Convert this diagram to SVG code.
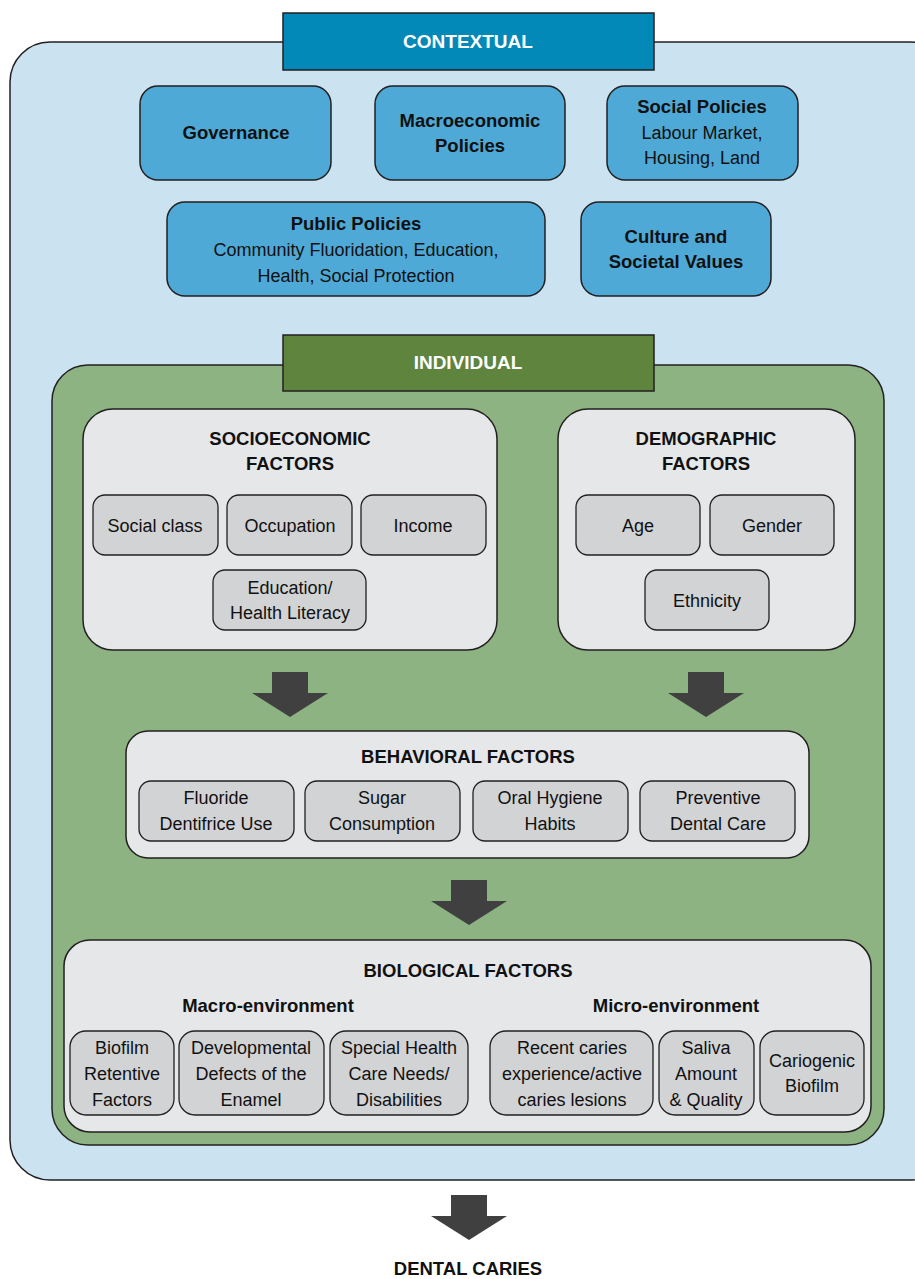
<svg xmlns="http://www.w3.org/2000/svg" width="915" height="1279" viewBox="0 0 915 1279">
<defs>
<style>
text{font-family:"Liberation Sans",Arial,sans-serif;text-anchor:middle;fill:#111}
.hd{font-size:19px;font-weight:bold;fill:#fff}
.t{font-size:18.5px;font-weight:bold}
.n{font-size:18px}
.bl{fill:#4ea9d6;stroke:#231f20;stroke-width:1.5}
.pn{fill:#e6e7e9;stroke:#231f20;stroke-width:1.5}
.sb{fill:#d1d3d4;stroke:#231f20;stroke-width:1.3}
.ar{fill:#404041}
</style>
</defs>
<g id="contextual">
<rect x="10" y="42" width="940" height="1138" rx="40" fill="#cbe3f0" stroke="#231f20" stroke-width="1.5"/>
<rect x="283" y="13" width="371" height="57" fill="#0289b7" stroke="#231f20" stroke-width="1.5"/>
<text class="hd" x="468" y="48">CONTEXTUAL</text>
</g>
<g id="governance"><rect class="bl" x="140" y="86" width="191" height="94" rx="18"/><text class="t" x="236" y="139">Governance</text></g>
<g id="macroeconomic"><rect class="bl" x="375" y="86" width="190" height="94" rx="18"/><text class="t" x="470" y="127">Macroeconomic</text><text class="t" x="470" y="152">Policies</text></g>
<g id="social-policies"><rect class="bl" x="607" y="86" width="191" height="94" rx="18"/><text class="t" x="702" y="113">Social Policies</text><text class="n" x="702" y="139">Labour Market,</text><text class="n" x="702" y="164">Housing, Land</text></g>
<g id="public-policies"><rect class="bl" x="167" y="202" width="378" height="94" rx="18"/><text class="t" x="356" y="230">Public Policies</text><text class="n" x="356" y="256">Community Fluoridation, Education,</text><text class="n" x="356" y="282">Health, Social Protection</text></g>
<g id="culture"><rect class="bl" x="581" y="202" width="190" height="94" rx="18"/><text class="t" x="676" y="243">Culture and</text><text class="t" x="676" y="268">Societal Values</text></g>
<g id="individual">
<rect x="52" y="365" width="832" height="780" rx="36" fill="#8db382" stroke="#231f20" stroke-width="1.5"/>
<rect x="283" y="335" width="371" height="56" fill="#5e843e" stroke="#231f20" stroke-width="1.5"/>
<text class="hd" x="468" y="369">INDIVIDUAL</text>
</g>
<g id="socioeconomic">
<rect class="pn" x="83" y="409" width="414" height="241" rx="30"/>
<text class="t" x="290" y="445">SOCIOECONOMIC</text><text class="t" x="290" y="470">FACTORS</text>
<rect class="sb" x="93" y="495" width="125" height="60" rx="12"/><text class="n" x="155" y="532">Social class</text>
<rect class="sb" x="227" y="495" width="125" height="60" rx="12"/><text class="n" x="290" y="532">Occupation</text>
<rect class="sb" x="361" y="495" width="125" height="60" rx="12"/><text class="n" x="423" y="532">Income</text>
<rect class="sb" x="213" y="570" width="153" height="60" rx="12"/><text class="n" x="290" y="594">Education/</text><text class="n" x="290" y="619">Health Literacy</text>
</g>
<g id="demographic">
<rect class="pn" x="558" y="409" width="297" height="241" rx="30"/>
<text class="t" x="706" y="445">DEMOGRAPHIC</text><text class="t" x="706" y="470">FACTORS</text>
<rect class="sb" x="576" y="495" width="124" height="60" rx="12"/><text class="n" x="638" y="532">Age</text>
<rect class="sb" x="710" y="495" width="124" height="60" rx="12"/><text class="n" x="772" y="532">Gender</text>
<rect class="sb" x="645" y="570" width="124" height="60" rx="12"/><text class="n" x="707" y="607">Ethnicity</text>
</g>
<g id="behavioral">
<rect class="pn" x="126" y="731" width="683" height="127" rx="22"/>
<text class="t" x="468" y="763">BEHAVIORAL FACTORS</text>
<rect class="sb" x="139" y="781" width="155" height="60" rx="12"/><text class="n" x="216" y="804">Fluoride</text><text class="n" x="216" y="830">Dentifrice Use</text>
<rect class="sb" x="305" y="781" width="155" height="60" rx="12"/><text class="n" x="382" y="804">Sugar</text><text class="n" x="382" y="830">Consumption</text>
<rect class="sb" x="473" y="781" width="155" height="60" rx="12"/><text class="n" x="550" y="804">Oral Hygiene</text><text class="n" x="550" y="830">Habits</text>
<rect class="sb" x="640" y="781" width="155" height="60" rx="12"/><text class="n" x="718" y="804">Preventive</text><text class="n" x="718" y="830">Dental Care</text>
</g>
<g id="biological">
<rect class="pn" x="64" y="940" width="807" height="192" rx="26"/>
<text class="t" x="468" y="977">BIOLOGICAL FACTORS</text>
<text class="t" x="268" y="1012">Macro-environment</text>
<text class="t" x="676" y="1012">Micro-environment</text>
<rect class="sb" x="70" y="1031" width="104" height="84" rx="16"/><text class="n" x="122" y="1054">Biofilm</text><text class="n" x="122" y="1080">Retentive</text><text class="n" x="122" y="1106">Factors</text>
<rect class="sb" x="179" y="1031" width="145" height="84" rx="16"/><text class="n" x="251" y="1054">Developmental</text><text class="n" x="251" y="1080">Defects of the</text><text class="n" x="251" y="1106">Enamel</text>
<rect class="sb" x="330" y="1031" width="138" height="84" rx="16"/><text class="n" x="399" y="1054">Special Health</text><text class="n" x="399" y="1080">Care Needs/</text><text class="n" x="399" y="1106">Disabilities</text>
<rect class="sb" x="490" y="1031" width="163" height="84" rx="16"/><text class="n" x="572" y="1054">Recent caries</text><text class="n" x="572" y="1080">experience/active</text><text class="n" x="572" y="1106">caries lesions</text>
<rect class="sb" x="659" y="1031" width="95" height="84" rx="16"/><text class="n" x="706" y="1054">Saliva</text><text class="n" x="706" y="1080">Amount</text><text class="n" x="706" y="1106">&amp; Quality</text>
<rect class="sb" x="760" y="1031" width="104" height="84" rx="16"/><text class="n" x="812" y="1067">Cariogenic</text><text class="n" x="812" y="1092">Biofilm</text>
</g>
<g id="connectors">
<polygon class="ar" points="272,672 308,672 308,693 328,693 290,717 252,693 272,693"/>
<polygon class="ar" points="688,672 724,672 724,693 744,693 706,717 668,693 688,693"/>
<polygon class="ar" points="451,880 487,880 487,901 507,901 469,925 431,901 451,901"/>
<polygon class="ar" points="451,1195 487,1195 487,1216 507,1216 469,1240 431,1216 451,1216"/>
</g>
<g id="dental-caries"><text class="t" x="468" y="1275">DENTAL CARIES</text></g>
</svg>
